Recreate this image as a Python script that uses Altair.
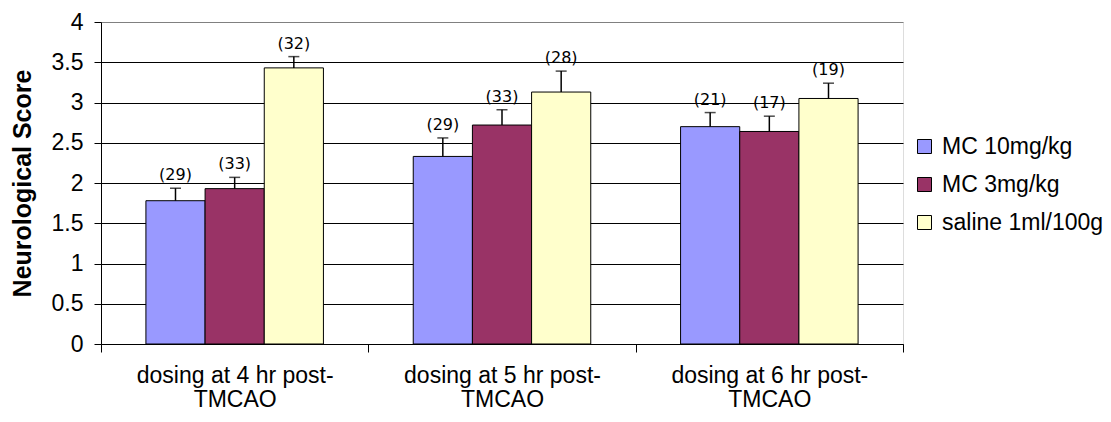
import altair as alt
import pandas as pd

groups = ["dosing at 4 hr post-|TMCAO", "dosing at 5 hr post-|TMCAO", "dosing at 6 hr post-|TMCAO"]
series = ["MC 10mg/kg", "MC 3mg/kg", "saline 1ml/100g"]
colors = ["#9999FF", "#993366", "#FFFFCC"]

mc10_mean = [1.78, 2.33, 2.70]
mc10_err = [0.155, 0.23, 0.175]
mc10_n = [29, 29, 21]

mc3_mean = [1.93, 2.72, 2.64]
mc3_err = [0.14, 0.19, 0.19]
mc3_n = [33, 33, 17]

saline_mean = [3.43, 3.13, 3.05]
saline_err = [0.14, 0.26, 0.19]
saline_n = [32, 28, 19]

y_ticks = [0, 0.5, 1, 1.5, 2, 2.5, 3, 3.5, 4]

rows = []
for i, g in enumerate(groups):
    for s, m, e, n in zip(series,
                          [mc10_mean, mc3_mean, saline_mean],
                          [mc10_err, mc3_err, saline_err],
                          [mc10_n, mc3_n, saline_n]):
        rows.append({"group": g, "series": s, "mean": m[i],
                     "top": m[i] + e[i], "n": f"({n[i]})"})
df = pd.DataFrame(rows)

FONT = "Liberation Sans"

x_enc = alt.X(
    "group:N", sort=groups,
    scale=alt.Scale(paddingInner=0, paddingOuter=0),
    axis=alt.Axis(title=None, labelExpr="split(datum.label, '|')",
                  tickBand="extent", grid=False, labelAngle=0, labelLimit=0,
                  domainColor="black", tickColor="black", tickSize=8,
                  labelPadding=12, labelFontSize=23, labelFont=FONT,
                  labelColor="black", labelLineHeight=24),
)
xoff = alt.XOffset("series:N", sort=series,
                   scale=alt.Scale(paddingInner=0, paddingOuter=0.759))

y_axis = alt.Axis(
    values=y_ticks, format=".1~f", title="Neurological Score",
    titleFont=FONT, titleFontSize=25, titleFontWeight="bold", titleColor="black",
    titleAngle=270, titleX=-79, titleY=161, titleAlign="center", titleBaseline="middle",
    labelFont=FONT, labelFontSize=23, labelColor="black", labelPadding=11,
    tickSize=7, tickColor="black", domainColor="black",
    gridColor={"condition": {"test": "datum.value === 4", "value": "#808080"}, "value": "black"},
    gridWidth=1,
)
y_scale = alt.Scale(domain=[0, 4], nice=False)

color = alt.Color(
    "series:N", sort=series,
    scale=alt.Scale(domain=series, range=colors),
    legend=alt.Legend(title=None, orient="none", legendX=812, legendY=113,
                      symbolType="square", symbolSize=196,
                      symbolStrokeColor="black", symbolStrokeWidth=1,
                      labelFont=FONT, labelFontSize=23, labelColor="black",
                      labelLimit=0, labelOffset=6, rowPadding=14, padding=0),
)

base = alt.Chart(df)

bars = base.mark_bar(stroke="black", strokeWidth=1).encode(
    x=x_enc, xOffset=xoff,
    y=alt.Y("mean:Q", scale=y_scale, axis=y_axis),
    color=color,
)
err = base.mark_rule(color="black", strokeWidth=1.5).encode(
    x=x_enc, xOffset=xoff,
    y=alt.Y("mean:Q", scale=y_scale, axis=y_axis),
    y2="top:Q",
)
cap = base.mark_tick(color="black", thickness=1.5, size=11).encode(
    x=x_enc, xOffset=xoff,
    y=alt.Y("top:Q", scale=y_scale, axis=y_axis),
)
labels = base.mark_text(dy=-13, font="DejaVu Sans", fontSize=16,
                        baseline="middle", color="black").encode(
    x=x_enc, xOffset=xoff,
    y=alt.Y("top:Q", scale=y_scale, axis=y_axis),
    text="n:N",
)

chart = alt.layer(bars, err, cap, labels).properties(
    width=802, height=322,
    autosize=alt.AutoSizeParams(type="none"),
    padding={"left": 93, "top": 14, "right": 200, "bottom": 70},
).configure_view(
    fill="#C0C0C0", stroke="#808080", strokeWidth=1,
).configure(background="white")

chart.save("out.html", embed_options={"renderer": "svg", "actions": False})
